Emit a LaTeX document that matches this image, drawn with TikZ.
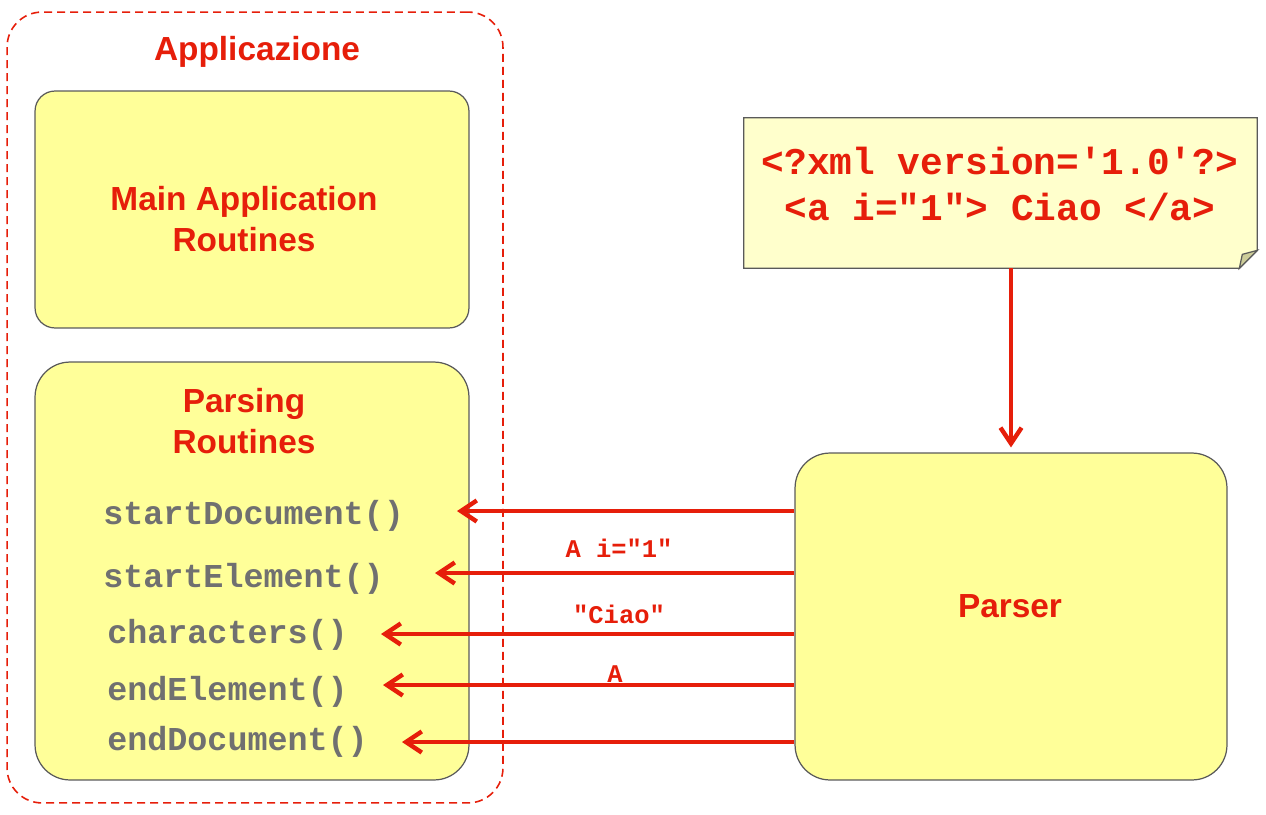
\documentclass[tikz,border=0pt]{standalone}
\usepackage{fontspec}
\setmainfont{Liberation Sans}
\setmonofont{Liberation Mono}
\usetikzlibrary{arrows.meta}
\definecolor{txtred}{HTML}{E61E0A}
\definecolor{boxyellow}{HTML}{FFFF99}
\definecolor{noteyellow}{HTML}{FFFFCC}
\definecolor{foldgray}{HTML}{CCCC99}
\definecolor{edgegray}{HTML}{5A5A5A}
\definecolor{methgray}{HTML}{707070}

\begin{document}
\begin{tikzpicture}[x=0.02cm,y=-0.02cm,
    box/.style = {draw=edgegray, line width=0.7pt, fill=boxyellow, rounded corners=0.7cm, inner sep=0pt},
    title/.style = {text=txtred, font=\fontsize{19}{23.3}\selectfont\bfseries, align=center},
    meth/.style = {anchor=west, text=methgray, font=\fontsize{19}{23}\selectfont\ttfamily\bfseries, inner sep=0pt},
    msg/.style = {text=txtred, font=\fontsize{14.5}{17}\selectfont\ttfamily\bfseries, inner sep=0pt},
    flow/.style = {draw=txtred, line width=2.5pt, -{Straight Barb[length=9pt,width=12pt]}}]
                \useasboundingbox (0,0) rectangle (1266,814);
                % application frame
                \node[draw=txtred, line width=0.9pt, dash pattern=on 0.16cm off 0.1cm, rounded corners=0.7cm,
                      minimum width=9.92cm, minimum height=15.82cm] (app) at (255,407.5) {};
                \node[title] (apptitle) at (257,52) {Applicazione};
                \node[box, rounded corners=0.4cm, minimum width=8.68cm, minimum height=4.74cm] (main) at (252,209.5) {};
                \node[title] (maintitle) at (244,219) {Main Application\\Routines};
                \node[box, minimum width=8.68cm, minimum height=8.36cm] (parsing) at (252,571) {};
                \node[title] (parsetitle) at (244,421) {Parsing\\Routines};
                \node[meth] (m1) at (103,516) {startDocument()};
                \node[meth] (m2) at (103,579) {startElement()};
                \node[meth] (m3) at (107,635) {characters()};
                \node[meth] (m4) at (107,692) {endElement()};
                \node[meth] (m5) at (107,742) {endDocument()};
                % parser and document
                \node[box, minimum width=8.64cm, minimum height=6.54cm] (parser) at (1011,616.5) {};
                \node[title] (parsertitle) at (1010,606) {Parser};
                \node[minimum width=10.26cm, minimum height=3cm, inner sep=0pt] (note) at (1000.5,193) {};
                \draw[edgegray, fill=noteyellow, line width=0.7pt] (note.north west) -- (note.north east)
                    -- ([yshift=0.36cm]note.south east) -- ([xshift=-0.36cm]note.south east) -- (note.south west) -- cycle;
                \draw[edgegray, fill=foldgray, line width=0.7pt] ([yshift=0.36cm]note.south east)
                    -- ([xshift=-0.3cm,yshift=0.28cm]note.south east) -- ([xshift=-0.36cm]note.south east) -- cycle;
                \node[text=txtred, font=\fontsize{21.5}{26}\selectfont\ttfamily\bfseries, align=center] (xml) at (1000,184)
                    {<?xml version='1.0'?>\\<a i="1"> Ciao </a>};
                % events
                \coordinate (c1) at (457,511);
                \coordinate (c2) at (435,573);
                \coordinate (c3) at (381,634);
                \coordinate (c4) at (383,685);
                \coordinate (c5) at (402,742);
                \draw[flow] (note.south -| parser.north) -- ([yshift=0.1cm]parser.north);
                \draw[flow] (parser.west |- c1) -- (c1);
                \draw[flow] (parser.west |- c2) -- (c2);
                \draw[flow] (parser.west |- c3) -- (c3);
                \draw[flow] (parser.west |- c4) -- (c4);
                \draw[flow] (parser.west |- c5) -- (c5);
                \node[msg] (l2) at (619,548) {A i="1"};
                \node[msg] (l3) at (619,614) {"Ciao"};
                \node[msg] (l4) at (615,674) {A};
\end{tikzpicture}
\end{document}
